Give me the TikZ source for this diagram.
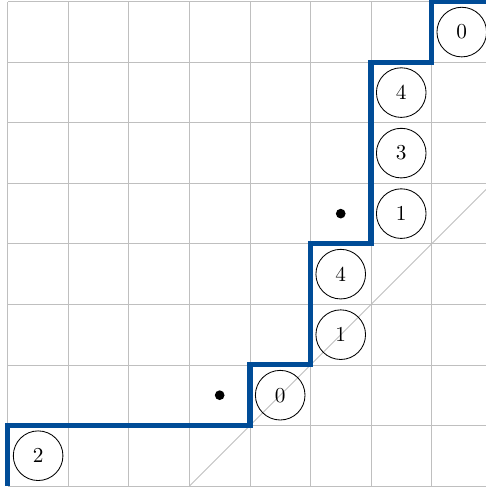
\documentclass[tikz,border=0pt]{standalone}
\usepackage{amsmath,amssymb}
\usetikzlibrary{positioning}
\definecolor{routeblue}{RGB}{0,76,151}

\begin{document}
\begin{tikzpicture}[
    lbl/.style={circle, draw, minimum size=8.2mm, inner sep=0pt, font=\normalsize},
    bullet/.style={circle, fill, inner sep=0pt, minimum size=1.6mm},
    lattice/.style={gray!50, line width=0.4pt},
    route/.style={routeblue, line width=2.4pt}
]
\clip (-0.13,-0.05) rectangle (7.9,8.03);
\draw[lattice] (0,0) grid (8,8);
\draw[lattice] (3,0) -- (8,5);
\draw[route] (0,0) -- (0,1) -- (4,1) -- (4,2) -- (5,2) -- (5,4) -- (6,4) -- (6,7) -- (7,7) -- (7,8) -- (8,8);

\node[lbl] (c00) at (0.5,0.5) {2};
\node[bullet] (d31) at (3.5,1.5) {};
\node[lbl] (c41) at (4.5,1.5) {0};
\node[lbl] (c52) at (5.5,2.5) {1};
\node[lbl] (c53) at (5.5,3.5) {4};
\node[bullet] (d54) at (5.5,4.5) {};
\node[lbl] (c64) at (6.5,4.5) {1};
\node[lbl] (c65) at (6.5,5.5) {3};
\node[lbl] (c66) at (6.5,6.5) {4};
\node[lbl] (c77) at (7.5,7.5) {0};
\end{tikzpicture}
\end{document}
